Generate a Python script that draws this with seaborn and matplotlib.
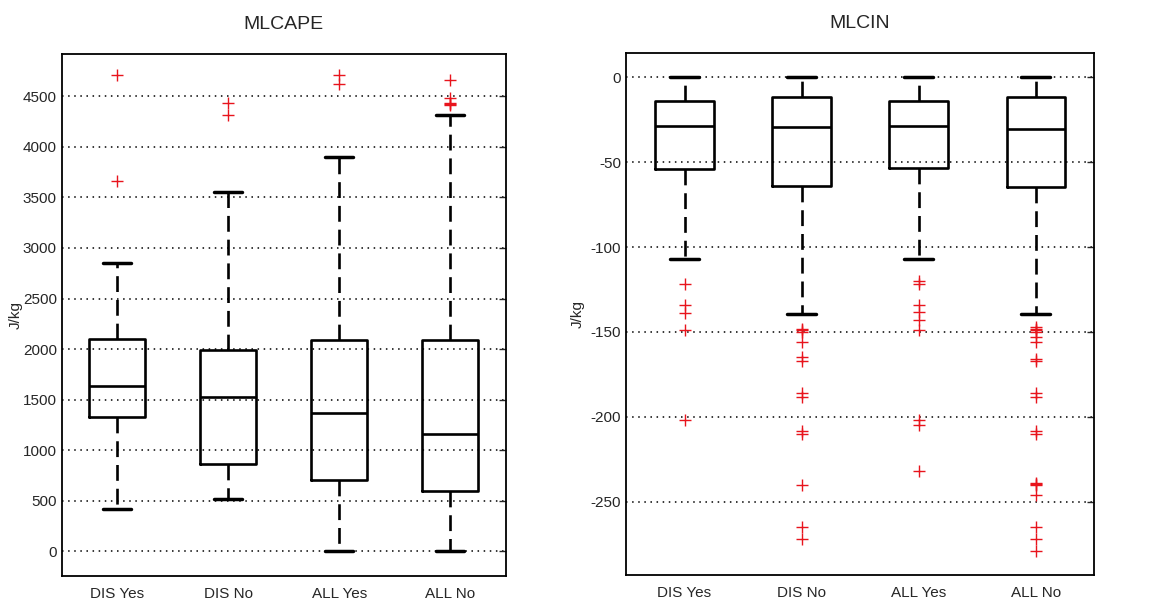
import pandas as pd
import seaborn as sns
import matplotlib.pyplot as plt

# grupy i statystyki
categories = ["DIS Yes", "DIS No", "ALL Yes", "ALL No"]

cape_q1 = [1324, 858, 703, 591]
cape_med = [1637, 1525, 1366, 1161]
cape_q3 = [2096, 1990, 2086, 2086]
cape_lo = [416, 512, 0, 0]
cape_hi = [2850, 3558, 3905, 4319]
cape_out = [
    [3661, 4708],
    [4312, 4437],
    [4626, 4715],
    [4420, 4430, 4440, 4484, 4659],
]

cin_q1 = [-54.3, -64.3, -53.3, -64.7]
cin_med = [-28.8, -29.6, -28.8, -30.4]
cin_q3 = [-14.1, -11.8, -14.0, -11.8]
cin_lo = [-106.8, -139.2, -106.8, -139.2]
cin_hi = [0, 0, 0, 0]
cin_out = [
    [-122, -134, -139, -149, -202],
    [-148, -149, -150, -156, -165, -167, -186, -188, -208, -210, -240, -265, -272],
    [-120, -122, -134, -138, -143, -149, -202, -205, -232],
    [-147, -148, -149, -150, -153, -156, -166, -167, -186, -188, -208, -210,
     -239, -239.5, -240, -246, -265, -272, -279],
]

sns.set_style("white")
plt.rcParams['font.family'] = ['Liberation Sans', 'DejaVu Sans']
plt.rcParams['axes.unicode_minus'] = False

fig = plt.figure(figsize=(11.58, 6.05), dpi=100)
ax1 = fig.add_axes([0.0533, 0.0479, 0.3834, 0.8628])
ax2 = fig.add_axes([0.5406, 0.0496, 0.4044, 0.8623])


def draw_panel(ax, q1, med, q3, lo, hi, outliers, title, ylim, yticks):
    df_out = pd.DataFrame({
        "grupa": [c for c, vals in zip(categories, outliers) for _ in vals],
        "wartosc": [v for vals in outliers for v in vals],
    })
    sns.stripplot(data=df_out, x="grupa", y="wartosc", order=categories,
                  jitter=False, marker="+", color="#e8141c", size=8.5,
                  linewidth=1.0, ax=ax)

    stats = [dict(q1=a, med=b, q3=c, whislo=d, whishi=e, fliers=[])
             for a, b, c, d, e in zip(q1, med, q3, lo, hi)]
    lw = 1.9
    ax.bxp(stats, positions=range(len(categories)), widths=0.5,
           showfliers=False, manage_ticks=False, capwidths=0.25,
           boxprops=dict(color="black", linewidth=lw),
           medianprops=dict(color="black", linewidth=lw),
           whiskerprops=dict(color="black", linewidth=lw, linestyle=(0, (6, 3))),
           capprops=dict(color="black", linewidth=lw + 0.6))

    ax.set_xlim(-0.5, len(categories) - 0.5)
    ax.set_ylim(*ylim)
    ax.set_yticks(yticks)
    ax.yaxis.grid(True, color="black", linestyle=(0, (1, 3)), linewidth=1.1)
    ax.set_axisbelow(True)
    ax.tick_params(axis="y", direction="in", right=True, length=5,
                   labelsize=11, width=1)
    ax.tick_params(axis="x", direction="in", top=False, length=3, labelsize=11,
                   pad=8)
    ax.set_xlabel("")
    ax.set_ylabel("J/kg", fontsize=11)
    ax.yaxis.set_label_coords(-0.088, 0.5)
    ax.set_title(title, fontsize=14, pad=18)
    for s in ax.spines.values():
        s.set_color("black")
        s.set_linewidth(1.3)


draw_panel(ax1, cape_q1, cape_med, cape_q3, cape_lo, cape_hi, cape_out,
           "MLCAPE", (-247, 4920), range(0, 4501, 500))
draw_panel(ax2, cin_q1, cin_med, cin_q3, cin_lo, cin_hi, cin_out,
           "MLCIN", (-293, 14), range(-250, 1, 50))

fig.savefig("out.png", dpi=100)
